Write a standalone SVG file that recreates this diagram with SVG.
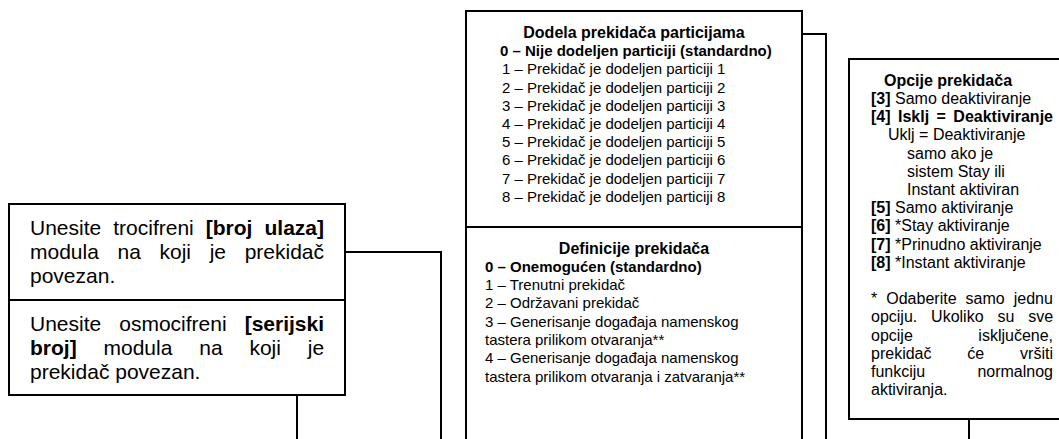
<svg xmlns="http://www.w3.org/2000/svg" width="1059" height="439" viewBox="0 0 1059 439">
<style>
.box{fill:#fff;stroke:#000;stroke-width:2}
.ln{fill:none;stroke:#000;stroke-width:2}
text{font-family:"Liberation Sans",Arial,sans-serif;fill:#000}
.l{font-size:21px}
.m{font-size:15px}
.r{font-size:16px}
.t{font-size:16px;font-weight:bold;text-anchor:middle}
.b{font-weight:bold}
</style>
<rect width="1059" height="439" fill="#fff"/>
<g id="connectors">
<path class="ln" d="M345,252 H441 V440"/>
<path class="ln" d="M297,395 V440"/>
<path class="ln" d="M777,34 H826 V440"/>
<path class="ln" d="M969,419 V440"/>
</g>
<g id="node-input">
<rect class="box" x="9" y="204" width="336" height="191"/>
<line class="ln" x1="9" y1="300" x2="345" y2="300"/>
<text class="l" x="30" y="235" word-spacing="6.2">Unesite trocifreni <tspan class="b">[broj ulaza]</tspan></text>
<text class="l" x="30" y="259" word-spacing="12.8">modula na koji je prekidač</text>
<text class="l" x="30" y="283">povezan.</text>
<text class="l" x="30" y="331" word-spacing="12.2">Unesite osmocifreni <tspan class="b">[serijski</tspan></text>
<text class="l" x="30" y="355" word-spacing="21"><tspan class="b">broj]</tspan> modula na koji je</text>
<text class="l" x="30" y="379">prekidač povezan.</text>
</g>
<g id="node-partition">
<path class="box" d="M466,440 V11 H802 V440"/>
<line class="ln" x1="466" y1="227" x2="802" y2="227"/>
<text class="t" x="634" y="38">Dodela prekidača particijama</text>
<text class="m b" x="500" y="56.2">0 – Nije dodeljen particiji (standardno)</text>
<text class="m" x="502" y="74.4">1 – Prekidač je dodeljen particiji 1</text>
<text class="m" x="502" y="92.6">2 – Prekidač je dodeljen particiji 2</text>
<text class="m" x="502" y="110.8">3 – Prekidač je dodeljen particiji 3</text>
<text class="m" x="502" y="129">4 – Prekidač je dodeljen particiji 4</text>
<text class="m" x="502" y="147.2">5 – Prekidač je dodeljen particiji 5</text>
<text class="m" x="502" y="165.4">6 – Prekidač je dodeljen particiji 6</text>
<text class="m" x="502" y="183.6">7 – Prekidač je dodeljen particiji 7</text>
<text class="m" x="502" y="201.8">8 – Prekidač je dodeljen particiji 8</text>
</g>
<g id="node-definition">
<text class="t" x="634" y="253.5">Definicije prekidača</text>
<text class="m b" x="485" y="271.8">0 – Onemogućen (standardno)</text>
<text class="m" x="485" y="290.1">1 – Trenutni prekidač</text>
<text class="m" x="485" y="308.4">2 – Održavani prekidač</text>
<text class="m" x="485" y="326.7">3 – Generisanje događaja namenskog</text>
<text class="m" x="485" y="345">tastera prilikom otvaranja**</text>
<text class="m" x="485" y="363.3">4 – Generisanje događaja namenskog</text>
<text class="m" x="485" y="381.6">tastera prilikom otvaranja i zatvaranja**</text>
</g>
<g id="node-options">
<rect class="box" x="849" y="59" width="260" height="360"/>
<text class="t" x="948" y="86">Opcije prekidača</text>
<text class="r" x="871" y="104"><tspan class="b">[3]</tspan> Samo deaktiviranje</text>
<text class="r b" x="871" y="122.2" word-spacing="3">[4] Isklj = Deaktiviranje</text>
<text class="r" x="888" y="140.4">Uklj = Deaktiviranje</text>
<text class="r" x="907" y="158.6">samo ako je</text>
<text class="r" x="907" y="176.8">sistem Stay ili</text>
<text class="r" x="907" y="195">Instant aktiviran</text>
<text class="r" x="871" y="213.2"><tspan class="b">[5]</tspan> Samo aktiviranje</text>
<text class="r" x="871" y="231.4"><tspan class="b">[6]</tspan> *Stay aktiviranje</text>
<text class="r" x="871" y="249.6"><tspan class="b">[7]</tspan> *Prinudno aktiviranje</text>
<text class="r" x="871" y="267.8"><tspan class="b">[8]</tspan> *Instant aktiviranje</text>
<text class="r" x="871" y="304.2" word-spacing="4.6">* Odaberite samo jednu</text>
<text class="r" x="871" y="322.4" word-spacing="9.4">opciju. Ukoliko su sve</text>
<text class="r" x="871" y="340.6" word-spacing="61.1">opcije isključene,</text>
<text class="r" x="871" y="358.8" word-spacing="31.4">prekidač će vršiti</text>
<text class="r" x="871" y="377" word-spacing="47.7">funkciju normalnog</text>
<text class="r" x="871" y="395.2">aktiviranja.</text>
</g>
</svg>
